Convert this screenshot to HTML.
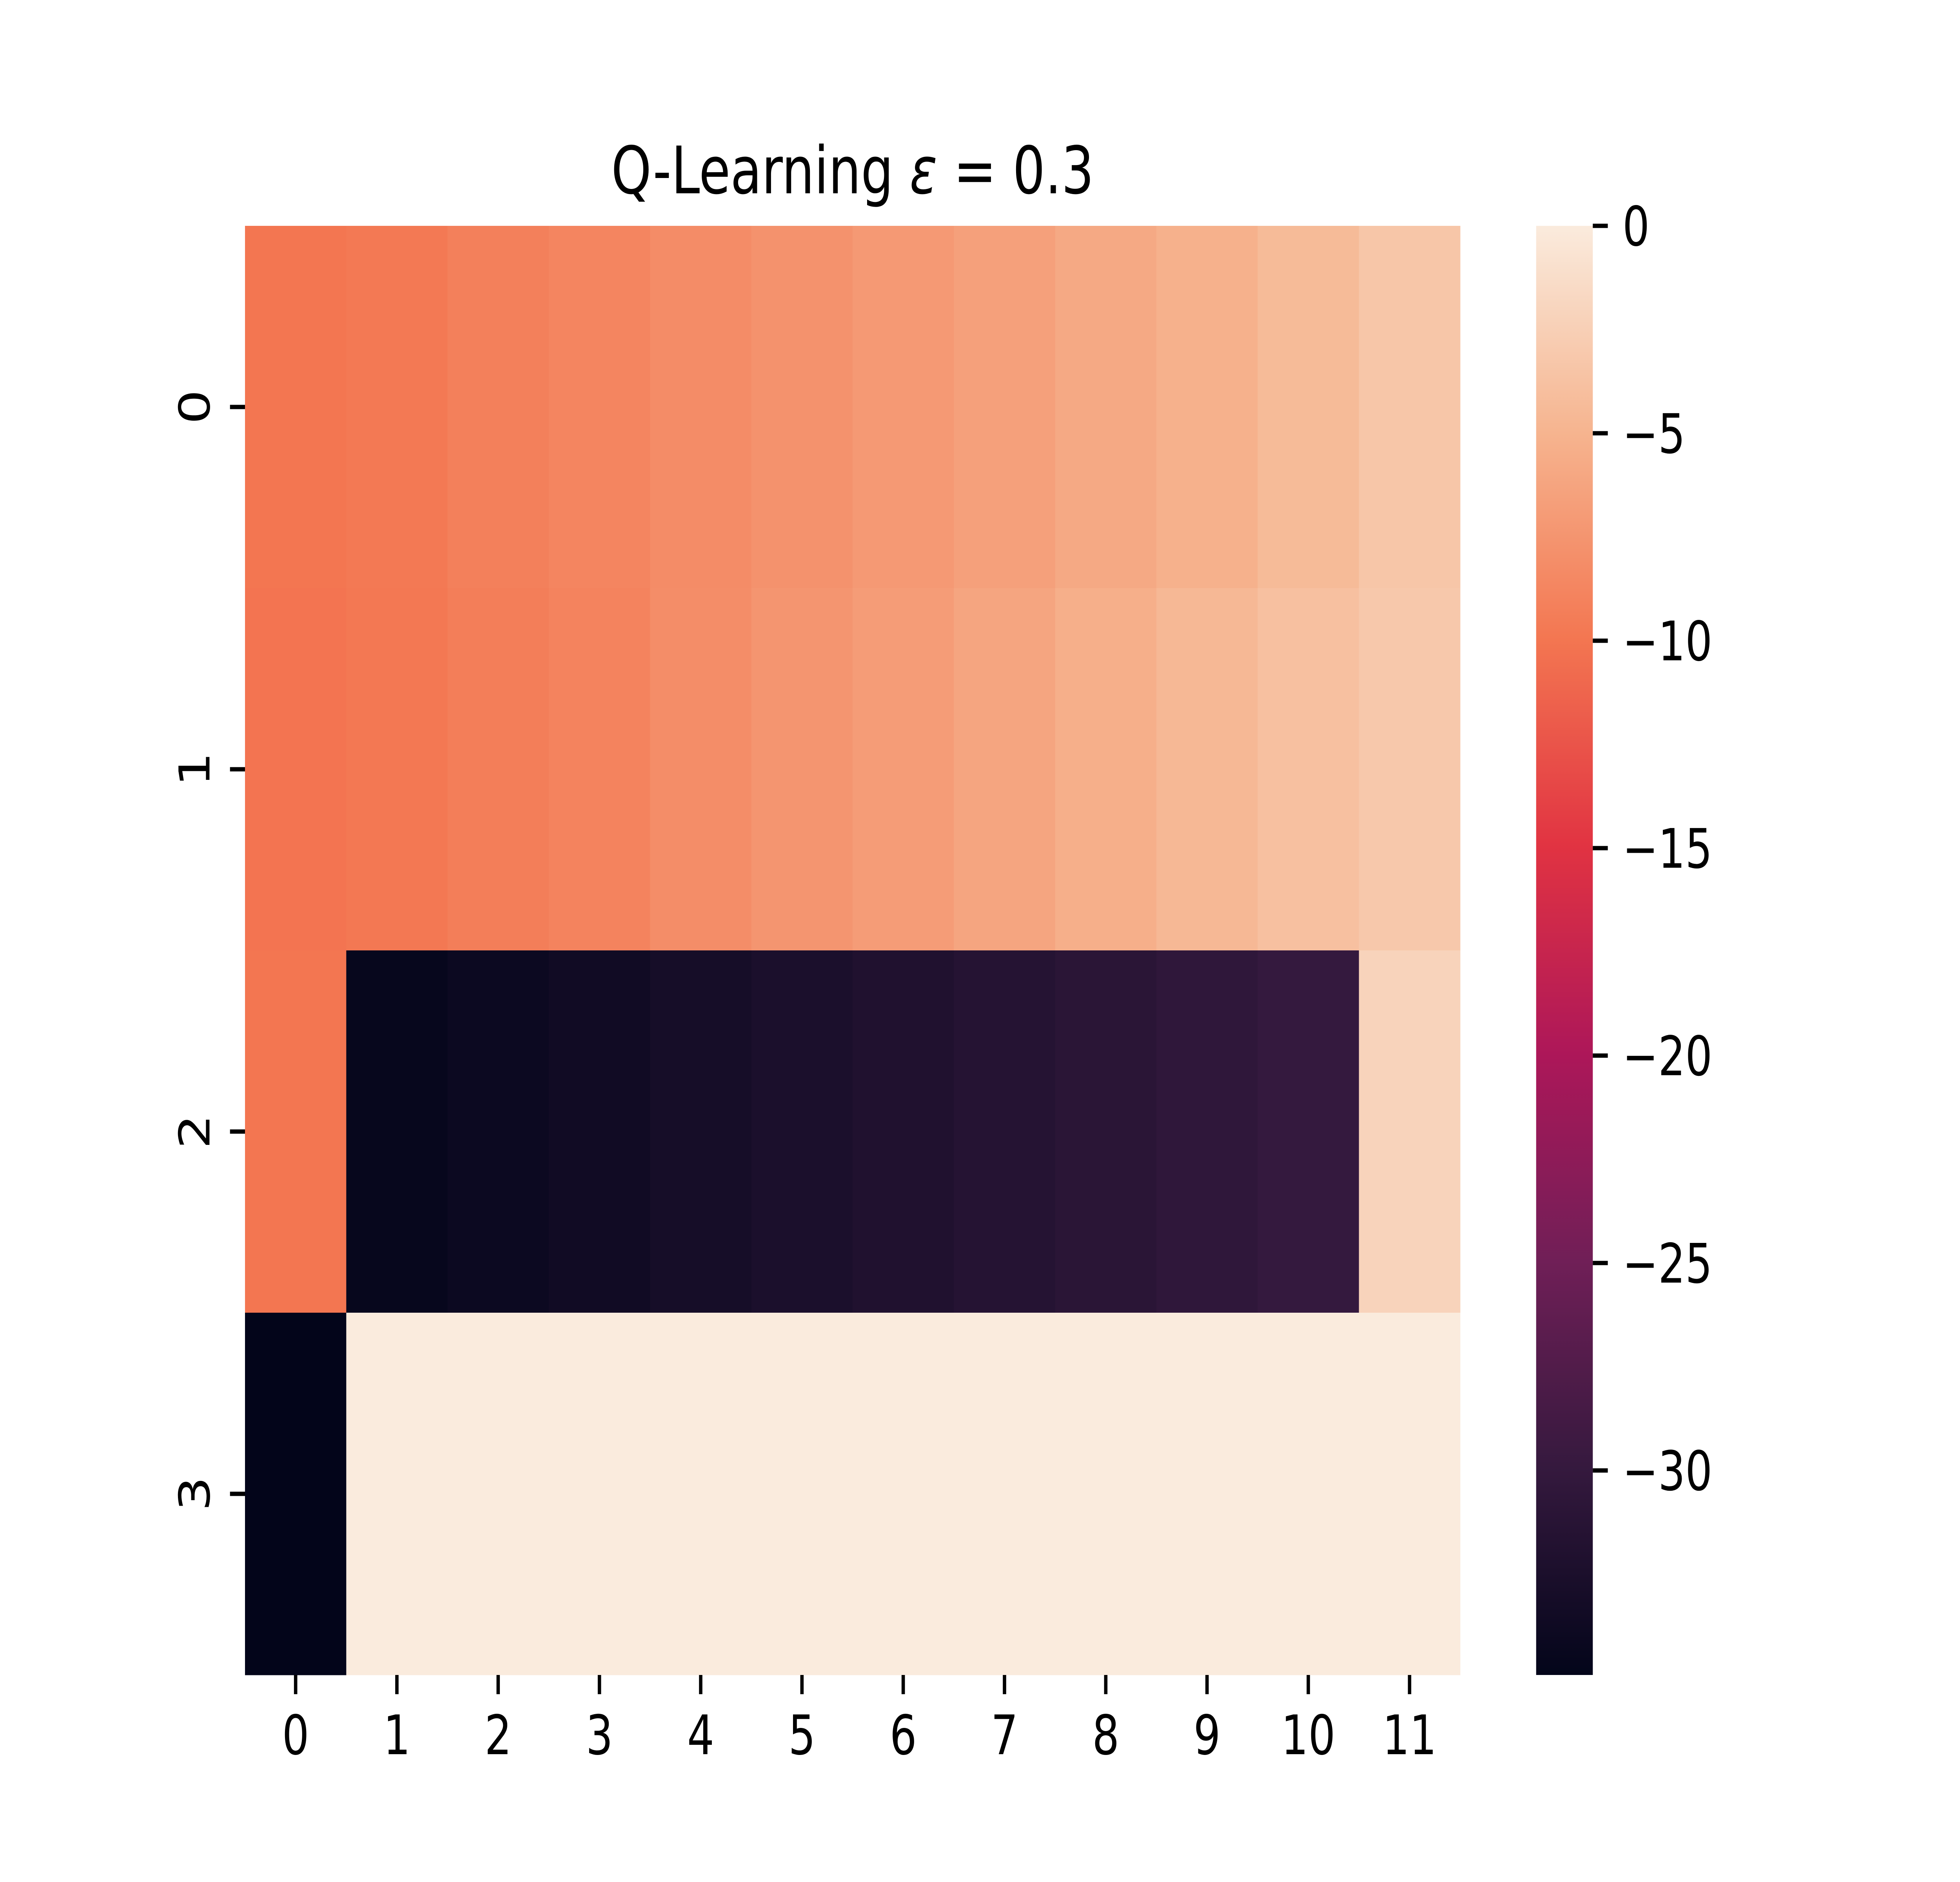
<!DOCTYPE html>
<html><head><meta charset="utf-8"><style>
html,body{margin:0;padding:0;background:#fff;width:100vw;height:100vh;overflow:hidden}
svg{display:block;position:absolute;left:0;top:0;width:100vw;height:100vh}
text{font-family:"DejaVu Sans","Liberation Sans",sans-serif;fill:#000}
</style></head><body>
<svg id="chart" viewBox="0 0 6400 4800" preserveAspectRatio="none" xmlns="http://www.w3.org/2000/svg">
<rect width="6400" height="4800" fill="#fff"/>
<defs><linearGradient id="cbgrad" x1="0" y1="1" x2="0" y2="0"></linearGradient></defs>
<text x="2784" y="493" font-size="167" text-anchor="middle">Q-Learning <tspan font-style="italic">ε</tspan> = 0.3</text>
<g id="cells"></g>
<g id="axes"></g>
<rect id="cbar" x="5016" y="576" width="185" height="3696" fill="url(#cbgrad)"/>
<g id="cbaxis"></g>
</svg>
<script>
const rowLabels = ["0","1","2","3"];
const colLabels = ["0","1","2","3","4","5","6","7","8","9","10","11"];
const row0 = [-10.0,-9.7,-9.2,-8.8,-8.2,-7.7,-7.2,-6.6,-5.9,-5.2,-4.4,-3.4];
const row1 = [-10.1,-9.8,-9.3,-8.9,-8.1,-7.5,-6.9,-6.2,-5.4,-4.6,-3.9,-3.2];
const row2 = [-10.0,-34.5,-34.0,-33.5,-33.0,-32.5,-32.0,-31.5,-31.0,-30.5,-30.0,-2.2];
const row3 = [-34.93,0,0,0,0,0,0,0,0,0,0,0];
const values = [row0,row1,row2,row3];
const cbTicks = [0,-5,-10,-15,-20,-25,-30];
const cbTickLabels = ["0","\u22125","\u221210","\u221215","\u221220","\u221225","\u221230"];
const vmin = -34.93, vmax = 0;

const rocketPos = [0,1/7,2/7,3/7,4/7,5/7,6/7,1];
const rocketCol = ["#03051a","#35193e","#701f57","#ad1759","#e13342","#f37651","#f6b48f","#faebdd"];

const NS = "http://www.w3.org/2000/svg";
const L = 800, R = 4768, T = 576, B = 4272;
const nR = rowLabels.length, nC = colLabels.length;
const cw = (R - L) / nC, ch = (B - T) / nR;
const xs = c => L + c * cw;
const ys = r => T + r * ch;
const cbY = v => T + (vmax - v) / (vmax - vmin) * (B - T);

function hex2rgb(h){return [parseInt(h.slice(1,3),16),parseInt(h.slice(3,5),16),parseInt(h.slice(5,7),16)];}
function cmap(t){
  t = Math.max(0, Math.min(1, t));
  for (let i = 0; i < rocketPos.length - 1; i++) {
    if (t <= rocketPos[i+1]) {
      const f = (t - rocketPos[i]) / (rocketPos[i+1] - rocketPos[i]);
      const a = hex2rgb(rocketCol[i]), b = hex2rgb(rocketCol[i+1]);
      return "rgb(" + a.map((v,k)=>Math.round(v + (b[k]-v)*f)).join(",") + ")";
    }
  }
  return rocketCol[rocketCol.length-1];
}
const norm = v => (v - vmin) / (vmax - vmin);

const cells = document.getElementById("cells");
values.forEach((row, r) => row.forEach((v, c) => {
  const el = document.createElementNS(NS, "rect");
  el.setAttribute("x", xs(c)); el.setAttribute("y", ys(r));
  el.setAttribute("width", cw + 0.5); el.setAttribute("height", ch + 0.5);
  el.setAttribute("fill", cmap(norm(v)));
  
  
  cells.appendChild(el);
}));

const grad = document.getElementById("cbgrad");
rocketPos.forEach((p, i) => {
  const s = document.createElementNS(NS, "stop");
  s.setAttribute("offset", p); s.setAttribute("stop-color", rocketCol[i]);
  grad.appendChild(s);
});

const axes = document.getElementById("axes");
function line(parent, x1, y1, x2, y2, name){
  const l = document.createElementNS(NS, "line");
  l.setAttribute("x1", x1); l.setAttribute("y1", y1); l.setAttribute("x2", x2); l.setAttribute("y2", y2);
  l.setAttribute("stroke", "#000"); l.setAttribute("stroke-width", 11);
  
  
  parent.appendChild(l);
}
function text(parent, x, y, str, anchor, name, transform){
  const t = document.createElementNS(NS, "text");
  t.setAttribute("x", x); t.setAttribute("y", y); t.setAttribute("font-size", 139);
  t.setAttribute("text-anchor", anchor);
  if (transform) t.setAttribute("transform", transform);
  t.textContent = str;
  
  
  parent.appendChild(t);
}
colLabels.forEach((lab, c) => {
  const x = xs(c) + cw / 2;
  line(axes, x, B, x, B + 49, "x-tick-" + lab);
  text(axes, x, 4474, lab, "middle", "x-tick-label-" + lab);
});
rowLabels.forEach((lab, r) => {
  const y = ys(r) + ch / 2;
  line(axes, L - 49, y, L, y, "y-tick-" + lab);
  text(axes, 0, 0, lab, "middle", "y-tick-label-" + lab, "translate(684," + y + ") rotate(-90)");
});
const cba = document.getElementById("cbaxis");
cbTicks.forEach((v, i) => {
  const y = cbY(v);
  line(cba, 5201, y, 5250, y, "colorbar-tick-" + i);
  text(cba, 5298, y + 50, cbTickLabels[i], "start", "colorbar-tick-label-" + i);
});
</script>
</body></html>
